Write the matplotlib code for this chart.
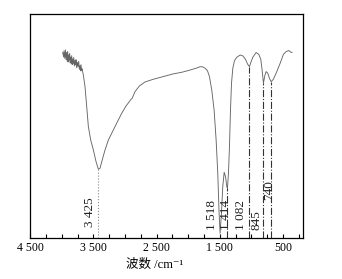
"""FT-IR spectrum with marked absorption bands (wavenumber axis reversed)."""

import matplotlib

matplotlib.use("Agg")

import matplotlib.pyplot as plt
from matplotlib.ticker import FixedLocator, MultipleLocator

plt.rcParams["font.family"] = ["Liberation Serif", "Noto Sans CJK SC", "DejaVu Sans"]

# spectrum: wavenumber (cm-1) and transmittance (% of axis height)
wavenumber = [
    3985, 3970, 3964, 3952, 3942, 3931, 3921, 3913, 3906, 3898, 3890, 3882,
    3874, 3866, 3858, 3850, 3842, 3834, 3826, 3818, 3810, 3800, 3789, 3781,
    3774, 3763, 3753, 3742, 3732, 3721, 3711, 3703, 3695, 3687, 3679, 3658,
    3632, 3605, 3579, 3542, 3500,
    3458, 3421, 3395, 3352, 3315, 3263, 3210, 3131, 3052, 2983, 2931, 2904,
    2888, 2841, 2772, 2682, 2550, 2392, 2234, 2102, 1970, 1865, 1812, 1770,
    1733, 1696, 1665, 1628, 1591, 1559, 1533, 1512, 1496, 1475, 1454, 1432,
    1411, 1390, 1380, 1364, 1348, 1332, 1316, 1295, 1269, 1232, 1179, 1137,
    1095, 1063, 1032, 1011, 979, 927, 885, 853, 832, 811, 790, 769,
    742, 716, 690, 653, 600, 547, 495, 453, 410, 378, 357,
]
transmittance = [
    82.9, 80.8, 83.6, 80.2, 84.0, 79.6, 82.9, 78.9, 83.3, 78.6, 81.7, 79.4,
    82.3, 78.2, 80.8, 77.9, 81.4, 77.4, 79.9, 78.0, 80.6, 76.8, 79.3, 77.3,
    79.6, 76.0, 78.4, 76.5, 78.9, 75.3, 76.9, 74.6, 77.4, 74.8, 75.6, 72.8,
    67.6, 58.7, 49.8, 43.8, 39.4,
    34.2, 30.8, 31.2, 35.7, 39.4, 43.8, 46.8, 51.3, 55.7, 59.0, 60.9, 62.0,
    62.3, 65.4, 67.9, 69.7, 70.9, 72.1, 73.3, 74.0, 75.0, 75.9, 76.5, 76.4,
    75.8, 74.7, 72.1, 66.1, 57.2, 43.8, 29.0, 11.1, 2.2, 11.1, 23.0, 29.4,
    27.5, 23.0, 22.3, 29.0, 40.9, 57.2, 69.1, 75.8, 79.2, 80.7, 81.7, 81.3,
    79.8, 77.7, 76.5, 78.3, 80.7, 82.8, 82.0, 79.8, 75.0, 69.1, 72.4, 74.3,
    73.6, 71.3, 69.8, 70.9, 74.3, 78.0, 82.0, 83.2, 83.7, 82.9, 82.9,
]

# marked bands: where the drop line sits, its top, and the printed label
band_pos = [3421, 1496, 1380, 1032, 811, 690]
band_top = [30.8, 2.2, 22.3, 76.5, 69.1, 69.8]
band_text = ["3 425", "1 518", "1 414", "1 082", "845", "740"]
band_style = [":", ":", "-.", "-.", "-.", "-."]
band_color = ["#888888", "#555555", "#333333", "#333333", "#333333", "#333333"]
# label anchor (wavenumber, height)
label_x = [3547, 1627, 1405, 1158, 915, 720]
label_y = [11.5, 10.4, 10.4, 10.4, 8.2, 21.5]

tick_values = [4500, 3500, 2500, 1500, 500]
tick_text = ["4 500", "3 500", "2 500", "1 500", "500"]


def main() -> None:
    fig = plt.figure(figsize=(3.42, 2.79), dpi=100)
    ax = fig.add_axes([0.088, 0.146, 0.799, 0.804])

    ax.plot(wavenumber, transmittance, color="#666666", lw=0.65)

    for x, top, ls, c in zip(band_pos, band_top, band_style, band_color):
        ax.plot([x, x], [0, top], ls=ls, color=c, lw=0.8)

    for x, y, s in zip(label_x, label_y, band_text):
        ax.text(x, y, s, rotation=90, ha="center", va="center", fontsize=9.5,
                color="#222222")

    ax.set_xlim(4500, 180)
    ax.set_ylim(0, 100)
    ax.set_yticks([])
    ax.xaxis.set_major_locator(FixedLocator(tick_values))
    ax.set_xticklabels(tick_text, fontsize=8.5)
    ax.xaxis.set_minor_locator(MultipleLocator(250))
    ax.tick_params(axis="x", which="both", direction="in", length=2.6, width=0.8, pad=3)

    for sp in ax.spines.values():
        sp.set_linewidth(0.9)

    ax.set_xlabel("波数 /cm⁻¹", fontsize=9)
    ax.xaxis.set_label_coords(0.456, -0.119)
    ax.xaxis.label.set_va("center")

    fig.savefig("out.png", dpi=100)
    plt.close(fig)


if __name__ == "__main__":
    main()
